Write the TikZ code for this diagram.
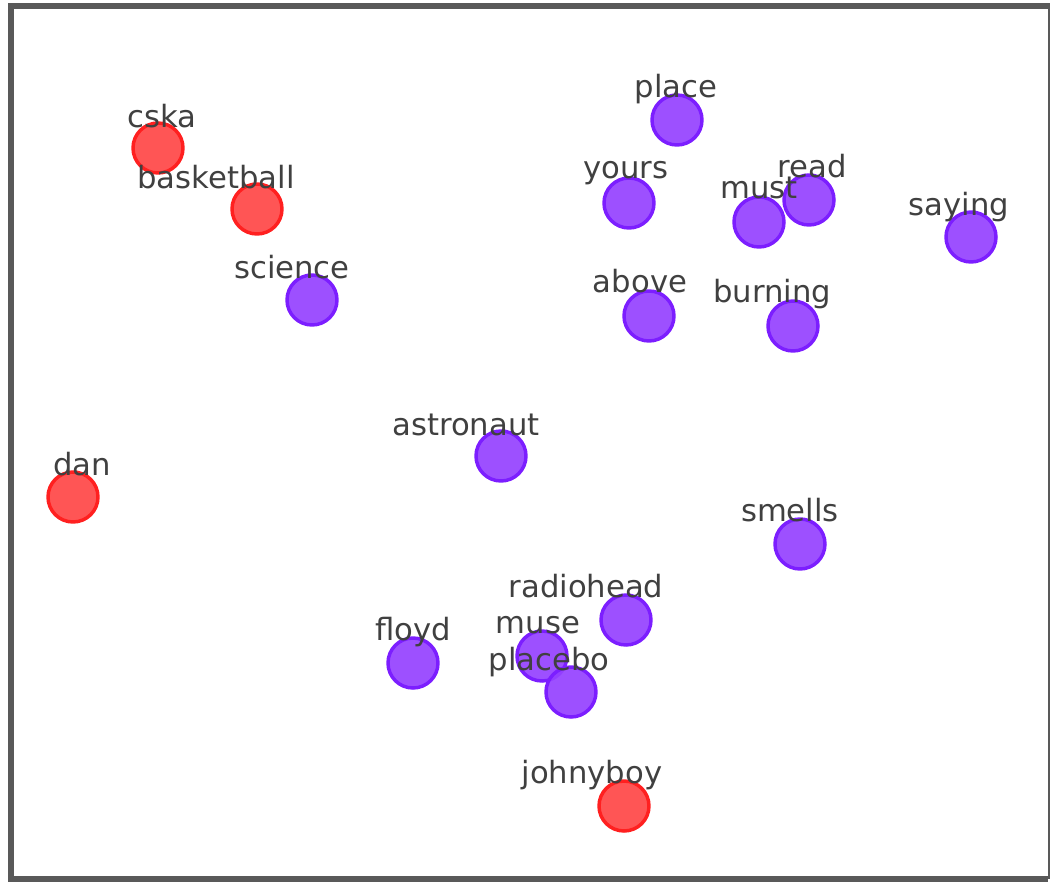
\documentclass[tikz,border=0pt]{standalone}
\usepackage{fontspec}
\setmainfont{DejaVu Sans}
\usepackage{tikz}
\usetikzlibrary{positioning}

\definecolor{frame}{HTML}{595959}
\definecolor{txt}{HTML}{404040}
\definecolor{redfill}{HTML}{FF4646}
\definecolor{rededge}{HTML}{FF2020}
\definecolor{purfill}{HTML}{9541FF}
\definecolor{puredge}{HTML}{7C1EFF}

\tikzset{
  word/.style={circle, minimum size=37.5pt, inner sep=0pt, line width=2.6pt, fill opacity=0.92},
  team/.style={word, fill=redfill, draw=rededge},
  term/.style={word, fill=purfill, draw=puredge},
  lbl/.style={anchor=base, inner sep=0pt, text=txt, font=\fontsize{23}{27}\selectfont}
}

\begin{document}
\begin{tikzpicture}[x=0.75pt, y=-0.75pt]
    \useasboundingbox (0,0) rectangle (1050,882);
    % frame
    \draw[frame, line width=4.5pt, line cap=rect] (10.5,878.5) -- (10.5,6) -- (1048,6);
    \draw[frame, line width=4.5pt] (10.5,878.5) -- (1048,878.5);
    \draw[frame, line width=1.5pt] (1048.5,6) -- (1048.5,878.5);
    % points
    \node[team] (cska) at (158,148) {} ; %
    \node[team] (basketball) at (257,209) {} ; %
    \node[term] (science) at (312,300) {} ; %
    \node[team] (dan) at (73,497) {} ; %
    \node[term] (astronaut) at (501,456) {} ; %
    \node[term] (place) at (677,120) {} ; %
    \node[term] (yours) at (629,203) {} ; %
    \node[term] (read) at (809,200) {} ; %
    \node[term] (must) at (759,222) {} ; %
    \node[term] (saying) at (971,237) {} ; %
    \node[term] (above) at (649,316) {} ; %
    \node[term] (burning) at (793,326) {} ; %
    \node[term] (smells) at (800,544) {} ; %
    \node[term] (radiohead) at (626,620) {} ; %
    \node[term] (muse) at (542,656) {} ; %
    \node[term] (placebo) at (571,692) {} ; %
    \node[term] (floyd) at (413,663) {} ; %
    \node[team] (johnyboy) at (624,806) {} ; %
    % labels
    \node[lbl] (cska-l) at (162,127) {cska} ; %
    \node[lbl] (basketball-l) at (216,188) {basketball} ; %
    \node[lbl] (science-l) at (292,278) {science} ; %
    \node[lbl] (dan-l) at (82,475) {dan} ; %
    \node[lbl] (astronaut-l) at (466,435) {astronaut} ; %
    \node[lbl] (place-l) at (676,97) {place} ; %
    \node[lbl] (yours-l) at (626,178) {yours} ; %
    \node[lbl] (read-l) at (812,177) {read} ; %
    \node[lbl] (must-l) at (759,198) {must} ; %
    \node[lbl] (saying-l) at (959,215) {saying} ; %
    \node[lbl] (above-l) at (640,292) {above} ; %
    \node[lbl] (burning-l) at (772,302) {burning} ; %
    \node[lbl] (smells-l) at (790,521) {smells} ; %
    \node[lbl] (radiohead-l) at (586,597) {radiohead} ; %
    \node[lbl] (muse-l) at (538,633) {muse} ; %
    \node[lbl] (placebo-l) at (549,670) {placebo} ; %
    \node[lbl] (floyd-l) at (413,640) {floyd} ; %
    \node[lbl] (johnyboy-l) at (592,783) {johnyboy} ; %
\end{tikzpicture}
\end{document}
